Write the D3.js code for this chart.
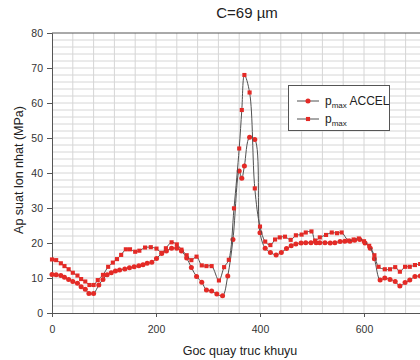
<!DOCTYPE html>
<html><head><meta charset="utf-8">
<script src="https://cdn.jsdelivr.net/npm/d3@7"></script>
<style>
body{margin:0;background:#fff;}
svg{display:block;font-family:Arial,"Liberation Sans",sans-serif;}
</style></head>
<body><svg id="c" width="420" height="360"></svg>
<script>
const titleText = "C=69 µm";
const xLabel = "Goc quay truc khuyu";
const yLabel = "Ap suat lon nhat (MPa)";
const xTicks = [0, 200, 400, 600];
const yTicks = [0, 10, 20, 30, 40, 50, 60, 70, 80];

const pmaxAngle = [0,8,17,24,32,40,49,56,64,72,80,88,98,108,117,125,133,142,150,160,168,179,190,201,211,219,230,240,249,259,268,278,288,297,307,321,331,340,350,360,365,370,380,390,400,410,420,429,438,448,459,469,480,488,499,506,515,527,538,548,557,570,580,590,600,610,620,628,640,650,660,669,679,688,698,708,718];
const pmaxValue = [15.3,15.1,14.2,13.4,12.5,11.5,10.7,9.7,9.0,8.0,8.0,9.4,10.9,13.2,14.4,15.4,16.6,18.2,18.2,17.5,17.8,18.7,18.8,18.4,17.2,18.5,20.2,19.6,18.1,16.5,15.1,16.1,13.6,13.4,13.4,9.3,13.1,15.2,29.9,47,58,68,63,35.6,24.7,20.4,19.4,21.0,21.6,21.8,20.9,22.2,22.4,23.0,23.3,20.7,21.6,22.3,23.0,22.8,23.0,20.7,21.0,21.3,20.5,19.2,16.5,13.2,12.5,12.5,13.1,11.8,13.2,13.2,13.7,14.0,14.0];

const accelAngle = [0,8,17,24,32,40,49,56,64,71,80,90,98,106,114,122,130,140,149,158,167,175,183,192,201,211,220,230,240,249,259,268,278,288,297,307,317,328,338,348,360,365,370,380,390,400,410,420,431,441,451,460,469,479,488,498,508,515,525,535,544,554,563,573,582,592,602,612,620,631,640,650,660,669,679,688,698,708,718];
const accelValue = [11.0,10.9,10.7,10.2,9.6,9.0,8.5,7.5,6.8,5.6,5.6,8.0,9.6,10.9,11.5,12.0,12.3,12.6,12.9,13.2,13.5,13.8,14.2,14.5,15.6,17.0,17.7,18.5,18.5,17.7,15.7,13.0,10.4,8.8,6.6,6.3,5.4,4.9,10.6,21.0,40.6,38.5,42,50.2,49.6,22.9,18.5,17.3,16.6,17.3,18.4,19.2,19.7,20.0,20.1,20.1,20.1,20.1,20.1,20.0,20.1,20.4,20.5,20.5,20.8,21.0,20.0,18.5,15.5,9.4,10.0,9.6,9.0,7.7,8.7,9.4,10.4,10.6,10.8];

const svg = d3.select("#c");
const x = d3.scaleLinear().domain([0, 720]).range([52, 426.4]);
const y = d3.scaleLinear().domain([0, 80]).range([313, 33]);

const red = "#e42a26", lineCol = "#505050";

// grid
const g = svg.append("g");
g.selectAll(".hg").data(d3.range(2, 80, 2)).enter().append("line")
  .attr("x1", x(0)).attr("x2", 420).attr("y1", d => y(d)).attr("y2", d => y(d))
  .attr("stroke", "#d6d6d6").attr("stroke-width", 1);
g.selectAll(".vg").data(d3.range(40, 720, 40)).enter().append("line")
  .attr("y1", y(0)).attr("y2", y(80)).attr("x1", d => x(d)).attr("x2", d => x(d))
  .attr("stroke", "#d6d6d6").attr("stroke-width", 1);
// top border
svg.append("line").attr("x1", x(0)).attr("x2", 420).attr("y1", y(80)).attr("y2", y(80))
  .attr("stroke", "#555").attr("stroke-width", 1);

// axes
const ya = svg.append("g").attr("transform", `translate(${x(0)},0)`)
  .call(d3.axisLeft(y).tickValues(yTicks).tickSize(5).tickPadding(4));
const xa = svg.append("g").attr("transform", `translate(0,${y(0)})`)
  .call(d3.axisBottom(x).tickValues(xTicks).tickSize(4).tickPadding(9));
[ya, xa].forEach(a => {
  a.selectAll("path").attr("stroke", "#555");
  a.selectAll("line").attr("stroke", "#555");
  a.selectAll("text").attr("fill", "#333").style("font-size", "10.5px").style("font-family", "Arial, 'Liberation Sans', sans-serif");
});
xa.select(".domain").attr("d", `M${x(0)},0.5H420`);

// lines
const curve = d3.curveCatmullRom.alpha(0.5);
function series(ang, val, shape) {
  const data = ang.map((a, i) => [a, val[i]]);
  svg.append("path").datum(data)
    .attr("d", d3.line().x(d => x(d[0])).y(d => y(d[1])).curve(curve))
    .attr("fill", "none").attr("stroke", lineCol).attr("stroke-width", 1);
  const sym = d3.symbol().type(shape === "circle" ? d3.symbolCircle : d3.symbolSquare).size(shape === "circle" ? 20 : 17);
  svg.append("g").selectAll("path").data(data).enter().append("path")
    .attr("d", sym).attr("transform", d => `translate(${x(d[0])},${y(d[1])})`)
    .attr("fill", red);
}
series(accelAngle, accelValue, "circle");
series(pmaxAngle, pmaxValue, "square");

// title and labels
svg.append("text").attr("x", 247).attr("y", 18).attr("text-anchor", "middle")
  .style("font-size", "15px").attr("fill", "#222").text(titleText);
svg.append("text").attr("x", 240).attr("y", 355).attr("text-anchor", "middle")
  .style("font-size", "12.5px").attr("fill", "#222").text(xLabel);
svg.append("text").attr("transform", "translate(23,170) rotate(-90)").attr("text-anchor", "middle")
  .style("font-size", "12.5px").attr("fill", "#222").text(yLabel);

// legend
const lg = svg.append("g");
lg.append("rect").attr("x", 288.5).attr("y", 85.5).attr("width", 101).attr("height", 45)
  .attr("fill", "#fff").attr("stroke", "#555").attr("stroke-width", 1);
const entries = [
  {y: 101, shape: d3.symbolCircle, size: 20, rest: " ACCEL"},
  {y: 119, shape: d3.symbolSquare, size: 17, rest: ""}
];
entries.forEach(e => {
  lg.append("line").attr("x1", 297).attr("x2", 319).attr("y1", e.y).attr("y2", e.y)
    .attr("stroke", lineCol).attr("stroke-width", 1);
  lg.append("path").attr("d", d3.symbol().type(e.shape).size(e.size)())
    .attr("transform", `translate(308,${e.y})`).attr("fill", red);
  const t = lg.append("text").attr("x", 325).attr("y", e.y + 4).style("font-size", "12px").attr("fill", "#222");
  t.append("tspan").text("p");
  t.append("tspan").attr("dy", 3).style("font-size", "8px").text("max");
  if (e.rest) t.append("tspan").attr("dy", -3).text(e.rest);
});
</script></body></html>
